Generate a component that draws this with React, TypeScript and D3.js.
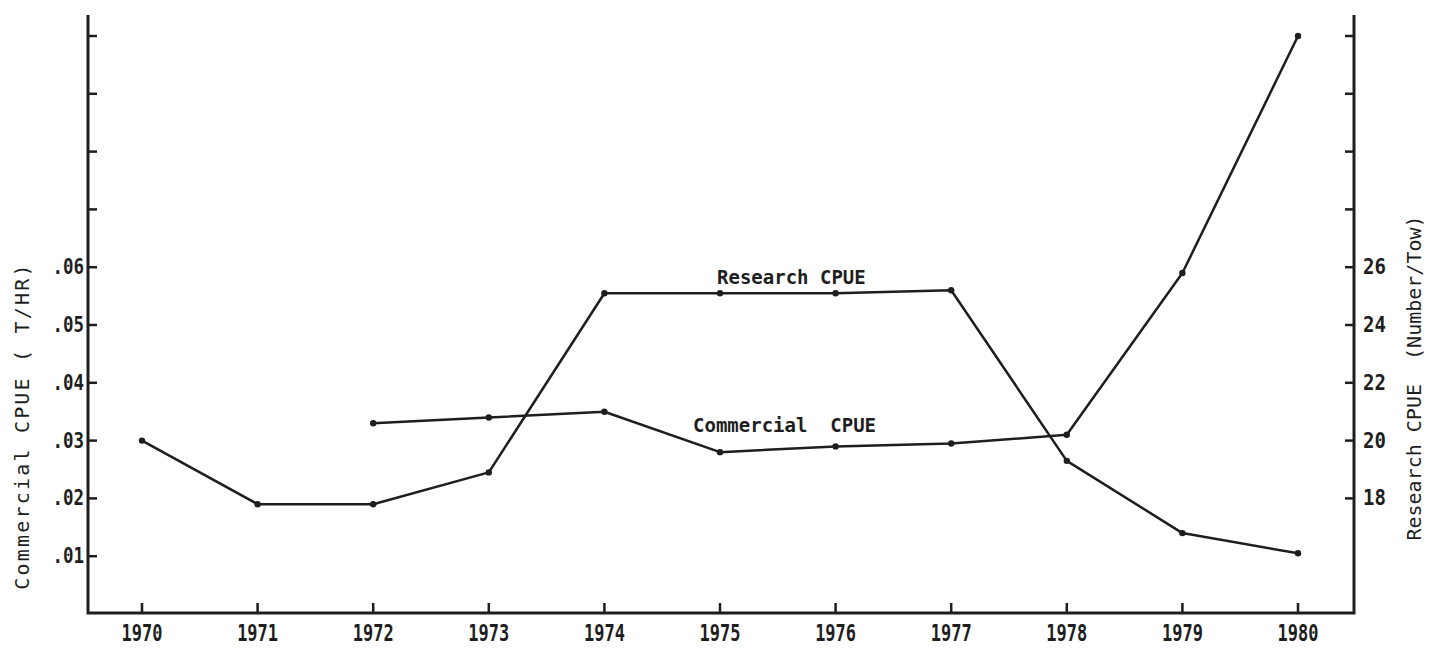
import React, { useRef, useEffect } from "react";
import * as d3 from "d3";

// years on the x axis
const years = [1970, 1971, 1972, 1973, 1974, 1975, 1976, 1977, 1978, 1979, 1980];

// Research CPUE (Number/Tow), right axis
const researchYears = [1970, 1971, 1972, 1973, 1974, 1975, 1976, 1977, 1978, 1979, 1980];
const researchValues = [20.0, 17.8, 17.8, 18.9, 25.1, 25.1, 25.1, 25.2, 19.3, 16.8, 16.1];

// Commercial CPUE (T/HR), left axis
const commercialYears = [1972, 1973, 1974, 1975, 1976, 1977, 1978, 1979, 1980];
const commercialValues = [0.033, 0.034, 0.035, 0.028, 0.029, 0.0295, 0.031, 0.059, 0.1];

// tick values; only some carry a label
const leftTicks = [0.01, 0.02, 0.03, 0.04, 0.05, 0.06, 0.07, 0.08, 0.09, 0.1];
const leftLabels = [".01", ".02", ".03", ".04", ".05", ".06", "", "", "", ""];
const rightTicks = [18, 20, 22, 24, 26, 28, 30, 32, 34];
const rightLabels = ["18", "20", "22", "24", "26", "", "", "", ""];

const FONT = "'DejaVu Sans Mono', 'Liberation Mono', monospace";
const INK = "#1e1e1e";

const App = () => {
  const svgRef = useRef(null);

  useEffect(() => {
    const svg = d3.select(svgRef.current);
    svg.selectAll("*").remove();

    const width = 1436;
    const height = 648;
    const axisLeft = 88;
    const axisRight = 1354;
    const axisBottom = 613;
    const axisTop = 15;

    const x = d3.scaleLinear().domain([1970, 1980]).range([142, 1298]);
    const yL = d3.scaleLinear().domain([0, 0.1]).range([614, 36]);
    const yR = d3.scaleLinear().domain([14, 34]).range([614, 36]);

    svg.attr("width", width).attr("height", height);

    // frame: left, bottom, right axis lines
    svg
      .append("path")
      .attr("d", `M${axisLeft},${axisTop}V${axisBottom}H${axisRight}V${axisTop}`)
      .attr("fill", "none")
      .attr("stroke", INK)
      .attr("stroke-width", 3);

    // left ticks (pointing inward)
    const gl = svg.append("g");
    gl.selectAll("line")
      .data(leftTicks)
      .join("line")
      .attr("x1", axisLeft)
      .attr("x2", axisLeft + 9)
      .attr("y1", (d) => yL(d))
      .attr("y2", (d) => yL(d))
      .attr("stroke", INK)
      .attr("stroke-width", 2.5);
    gl.selectAll("text")
      .data(leftTicks)
      .join("text")
      .attr("transform", (d) => `translate(${axisLeft - 4},${yL(d) + 7}) scale(0.92,1.1)`)
      .attr("text-anchor", "end")
      .attr("font-family", FONT)
      .attr("font-weight", "bold")
      .attr("font-size", 19)
      .attr("fill", INK)
      .text((d, i) => leftLabels[i]);

    // right ticks (pointing inward)
    const gr = svg.append("g");
    gr.selectAll("line")
      .data(rightTicks)
      .join("line")
      .attr("x1", axisRight - 9)
      .attr("x2", axisRight)
      .attr("y1", (d) => yR(d))
      .attr("y2", (d) => yR(d))
      .attr("stroke", INK)
      .attr("stroke-width", 2.5);
    gr.selectAll("text")
      .data(rightTicks)
      .join("text")
      .attr("transform", (d) => `translate(${axisRight + 9},${yR(d) + 7}) scale(0.95,1.1)`)
      .attr("font-family", FONT)
      .attr("font-weight", "bold")
      .attr("font-size", 20)
      .attr("fill", INK)
      .text((d, i) => rightLabels[i]);

    // x ticks (pointing up) and year labels
    const gx = svg.append("g");
    gx.selectAll("line")
      .data(years)
      .join("line")
      .attr("x1", (d) => x(d))
      .attr("x2", (d) => x(d))
      .attr("y1", axisBottom)
      .attr("y2", axisBottom - 10)
      .attr("stroke", INK)
      .attr("stroke-width", 2.5);
    gx.selectAll("text")
      .data(years)
      .join("text")
      .attr("transform", (d) => `translate(${x(d)},${641}) scale(0.85,1.15)`)
      .attr("text-anchor", "middle")
      .attr("font-family", FONT)
      .attr("font-weight", "bold")
      .attr("font-size", 20)
      .attr("fill", INK)
      .text((d) => d);

    // axis titles
    svg
      .append("text")
      .attr("transform", `translate(29,426) rotate(-90)`)
      .attr("text-anchor", "middle")
      .attr("font-family", FONT)
      .attr("font-size", 20)
      .attr("letter-spacing", 2.2)
      .attr("fill", INK)
      .style("white-space", "pre")
      .text("Commercial CPUE ( T/HR)");
    svg
      .append("text")
      .attr("transform", `translate(1421,378) rotate(-90)`)
      .attr("text-anchor", "middle")
      .attr("font-family", FONT)
      .attr("font-size", 20)
      .attr("fill", INK)
      .style("white-space", "pre")
      .text("Research CPUE  (Number/Tow)");

    // series
    const research = researchYears.map((yr, i) => [x(yr), yR(researchValues[i])]);
    const commercial = commercialYears.map((yr, i) => [x(yr), yL(commercialValues[i])]);
    const line = d3.line();

    [research, commercial].forEach((pts) => {
      svg
        .append("path")
        .attr("d", line(pts))
        .attr("fill", "none")
        .attr("stroke", INK)
        .attr("stroke-width", 2.5)
        .attr("stroke-linejoin", "round");
      svg
        .append("g")
        .selectAll("circle")
        .data(pts)
        .join("circle")
        .attr("cx", (d) => d[0])
        .attr("cy", (d) => d[1])
        .attr("r", 3.2)
        .attr("fill", INK);
    });

    // series labels
    svg
      .append("text")
      .attr("x", 717)
      .attr("y", 284)
      .attr("font-family", FONT)
      .attr("font-weight", "bold")
      .attr("font-size", 19)
      .attr("fill", INK)
      .style("white-space", "pre")
      .text("Research CPUE");
    svg
      .append("text")
      .attr("x", 693)
      .attr("y", 432)
      .attr("font-family", FONT)
      .attr("font-weight", "bold")
      .attr("font-size", 19)
      .attr("fill", INK)
      .style("white-space", "pre")
      .text("Commercial  CPUE");
  }, []);

  return (
    <div style={{ position: "absolute", left: 0, top: 0, background: "#fff" }}>
      <svg ref={svgRef} />
    </div>
  );
};

export default App;
